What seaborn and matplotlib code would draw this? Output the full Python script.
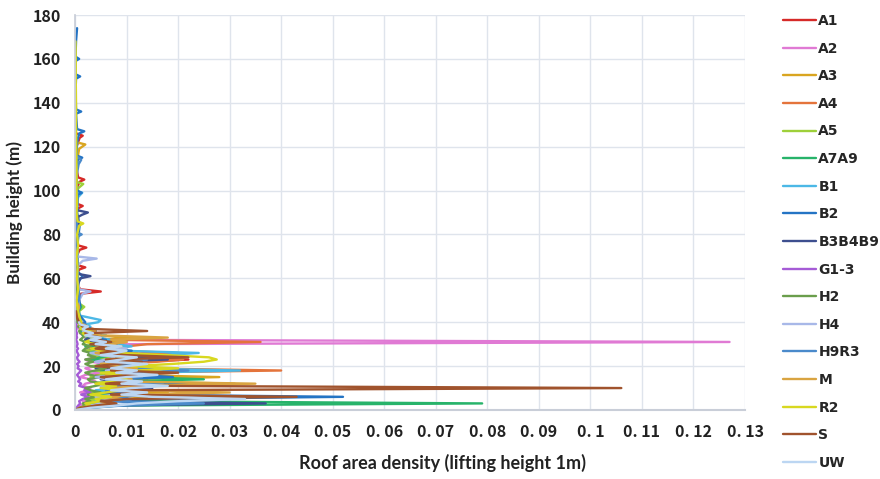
import matplotlib
matplotlib.use("Agg")
import matplotlib.pyplot as plt
import pandas as pd
import seaborn as sns

# Roof area density profiles per zone (values in 10^-3), lifting height 1 m.
# *_low: heights 0..40 m; *_up_h / *_up_v: sparse points above 40 m.
heights_low = list(range(0, 41))

a1_low = [0, 1, 3, 5, 2, 6, 9, 4, 7, 12, 6, 10, 5, 8, 14, 7, 4, 9, 6, 11, 5,
          8, 13, 22, 9, 5, 7, 4, 6, 3, 5, 8, 4, 2, 3, 1.5, 2.5, 1, 1.8, 0.8, 1.2]
a1_up_h = [41, 44, 47, 50, 53, 54, 55, 58, 62, 64, 65, 66, 70, 73, 74, 75, 80,
           85, 90, 92, 93, 94, 98, 102, 104, 105, 106, 110, 115, 120, 124, 125, 126]
a1_up_v = [0.5, 0.7, 0.4, 0.5, 1.2, 5.0, 1.0, 0.3, 0.4, 0.8, 2.0, 0.5, 0.3, 0.9,
           2.2, 0.6, 0.4, 0.2, 0.3, 0.7, 1.5, 0.4, 0.2, 0.5, 0.9, 1.8, 0.6, 0.3,
           0.2, 0.3, 0.9, 1.5, 0.3]

a2_low = [0, 0.5, 1, 2, 1.5, 3, 2, 4, 1, 2.5, 3, 1.5, 2, 4, 3, 1, 2, 5, 3, 2, 4,
          6, 3, 2, 5, 3, 7, 4, 2, 3, 9, 127, 4, 2, 1.5, 1, 2, 0.8, 0.5, 1, 0.6]
a2_up_h = [42, 45]
a2_up_v = [0.4, 0.2]

a3_low = [0, 2, 4, 8, 6, 10, 14, 9, 18, 11, 7, 15, 31, 12, 9, 28, 10, 6, 13, 8,
          5, 11, 7, 4, 9, 6, 12, 5, 8, 4, 6, 10, 5, 12, 3, 4, 2, 3, 1.5, 2, 1]
a3_up_h = [43, 48, 52, 57, 63, 70, 78, 85, 92, 100, 108, 115, 119, 121, 122]
a3_up_v = [0.6, 0.9, 0.4, 0.7, 0.3, 0.5, 0.3, 0.6, 0.2, 0.4, 0.3, 0.5, 0.8, 2.0, 0.3]

a4_low = [0, 1, 2, 4, 3, 7, 5, 9, 6, 11, 8, 5, 12, 7, 10, 6, 14, 9, 40, 12, 7,
          9, 16, 21, 11, 6, 20, 8, 5, 10, 14, 36, 7, 4, 6, 3, 2, 3.5, 1.5, 2, 1]
a4_up_h = [44, 50, 56, 60]
a4_up_v = [0.5, 0.8, 0.3, 0.2]

a5_low = [0, 1, 2, 3, 5, 2, 6, 4, 3, 7, 5, 9, 4, 6, 8, 3, 5, 7, 4, 6, 3, 9, 5,
          4, 7, 3, 5, 2, 4, 6, 3, 5, 2, 4, 1.5, 3, 2, 1, 1.5, 0.8, 1.2]
a5_up_h = [45, 47, 49, 55, 60, 68, 75, 82, 90, 97, 101, 103, 104]
a5_up_v = [0.8, 1.8, 0.5, 0.4, 0.6, 0.3, 0.5, 0.3, 0.4, 0.3, 0.6, 1.6, 0.2]

a7a9_low = [0, 3, 8, 79, 12, 6, 9, 5, 7, 11, 6, 9, 14, 8, 25, 12, 7, 10, 5, 8,
            4, 6, 9, 3, 5, 7, 3, 4, 6, 2, 4, 3, 2, 3, 1.5, 2, 1, 1.5, 0.8, 1, 0.5]
a7a9_up_h = [44, 47, 50]
a7a9_up_v = [0.4, 1.2, 0.2]

b1_low = [0, 1, 3, 6, 4, 8, 5, 10, 6, 4, 9, 7, 5, 11, 8, 6, 9, 13, 32, 10, 7,
          12, 8, 14, 10, 17, 24, 9, 6, 11, 8, 5, 7, 4, 6, 3, 4, 2.5, 3, 2, 4.5]
b1_up_h = [41, 42, 43, 46, 50, 55, 62, 70, 78, 85, 92, 97, 99, 100]
b1_up_v = [5.0, 3.0, 1.0, 0.6, 0.4, 0.7, 0.3, 0.5, 0.3, 0.4, 0.3, 0.6, 1.4, 0.2]

b2_low = [0, 2, 5, 18, 8, 12, 52, 10, 7, 13, 9, 15, 22, 11, 8, 19, 12, 9, 14,
          7, 10, 6, 12, 8, 16, 9, 6, 11, 7, 5, 8, 4, 6, 3, 5, 2, 4, 3, 2, 1.5, 2]
b2_up_h = [44, 48, 55, 59, 61, 63, 70, 78, 84, 90, 98, 99, 100, 108, 114, 115,
           116, 122, 126, 127, 128, 135, 136, 137, 145, 151, 152, 153, 159, 160,
           161, 168, 174]
b2_up_v = [0.6, 1.0, 0.4, 0.8, 1.5, 0.5, 0.3, 0.6, 0.9, 0.4, 0.5, 1.3, 0.4, 0.3,
           0.5, 1.4, 0.3, 0.4, 0.8, 1.8, 0.4, 0.2, 1.2, 0.2, 0.1, 0.2, 1.0, 0.1,
           0.1, 0.8, 0.1, 0.2, 0.4]

b3b4b9_low = [0, 2, 6, 37, 9, 5, 8, 12, 6, 9, 15, 7, 11, 8, 5, 10, 6, 13, 8, 4,
              7, 10, 5, 18, 8, 6, 4, 7, 3, 5, 8, 4, 2, 3, 5, 2, 1.5, 3, 1, 2, 1]
b3b4b9_up_h = [45, 50, 56, 60, 61, 62, 68, 75, 82, 88, 89, 90, 91, 92]
b3b4b9_up_v = [0.5, 0.8, 0.4, 1.0, 3.0, 0.6, 0.4, 0.3, 0.5, 0.6, 1.4, 2.5, 0.5, 0.2]

g13_low = [0, 0.3, 0.6, 1, 0.8, 1.5, 2.5, 1.2, 3, 1.8, 2.2, 0.8, 1.2, 0.6, 1,
           0.7, 0.4, 0.8, 1.2, 0.5, 0.7, 0.4, 0.9, 0.5, 0.4, 0.7, 0.5, 0.3, 0.6,
           0.3, 0.5, 0.4, 0.2, 0.4, 0.3, 0.4, 0.2, 0.3, 0.2, 0.3, 0.1]
g13_up_h = []
g13_up_v = []

h2_low = [0, 1, 2, 1.5, 3, 2, 4, 2.5, 5, 3, 2, 4, 6, 3, 2.5, 5, 3, 2, 4, 6, 3,
          2, 3.5, 2, 4, 2.5, 3, 1.5, 2, 3, 1.5, 2, 1, 1.5, 2, 1, 0.8, 1.2, 0.6,
          0.9, 0.5]
h2_up_h = [44, 48, 53, 57, 60]
h2_up_v = [0.4, 0.7, 0.3, 0.5, 0.2]

h4_low = [0, 1.5, 3, 5, 9, 6, 4, 8, 12, 6, 9, 5, 7, 10, 6, 4, 8, 11, 6, 9, 5,
          7, 4, 6, 9, 5, 3, 7, 10, 6, 4, 5, 3, 4, 2, 3, 1.5, 2.5, 1, 1.5, 0.8]
h4_up_h = [45, 50, 53, 54, 55, 60, 66, 68, 69, 70]
h4_up_v = [0.5, 0.8, 1.5, 3.0, 0.8, 0.4, 0.6, 1.5, 4.2, 0.2]

h9r3_low = [0, 3, 9, 25, 7, 11, 8, 14, 10, 6, 12, 8, 17, 9, 6, 13, 10, 15, 22,
            9, 12, 7, 10, 14, 8, 12, 6, 9, 5, 7, 4, 6, 3, 5, 2.5, 4, 2, 3, 1.5,
            2, 1]
h9r3_up_h = [43, 47, 52, 58, 65, 72, 79, 80, 81, 88, 95, 102, 108, 112, 114, 116]
h9r3_up_v = [0.7, 0.5, 0.9, 0.4, 0.6, 0.3, 0.5, 1.3, 0.4, 0.3, 0.5, 0.3, 0.4,
             0.7, 1.2, 0.2]

m_low = [0, 2, 4, 7, 5, 9, 6, 12, 30, 10, 7, 13, 35, 9, 11, 8, 6, 10, 7, 12, 8,
         5, 9, 6, 11, 7, 4, 8, 5, 9, 6, 10, 7, 18, 5, 3, 4, 2, 2.5, 1.5, 1]
m_up_h = [44, 47, 50]
m_up_v = [0.5, 0.8, 0.2]

r2_low = [0, 1, 3, 2, 5, 4, 7, 3, 6, 9, 5, 8, 4, 7, 10, 6, 9, 5, 12, 20, 11,
          19, 25, 27.5, 26, 18, 8, 5, 3, 6, 4, 2, 3, 5, 2, 1.5, 3, 1, 1.5, 0.8,
          1.2]
r2_up_h = [43, 46, 50, 55, 60, 65, 70, 75, 80, 84, 85, 86, 90, 95, 100, 110,
           120, 130, 140, 150, 160, 168]
r2_up_v = [0.8, 0.5, 0.3, 0.6, 0.4, 0.5, 0.3, 0.6, 0.4, 0.8, 1.6, 0.5, 0.3, 0.4,
           0.3, 0.3, 0.25, 0.2, 0.2, 0.15, 0.15, 0.1]

s_low = [0, 1, 4, 8, 5, 10, 43, 7, 12, 9, 106, 14, 6, 10, 8, 5, 11, 20, 7, 9,
         4, 8, 13, 6, 22, 10, 5, 8, 4, 6, 3, 7, 4, 5, 3, 2, 14, 2, 1.5, 1, 0.8]
s_up_h = [42, 45]
s_up_v = [0.4, 0.2]

uw_low = [0, 3, 8, 12, 20, 33, 15, 9, 14, 7, 11, 18, 9, 13, 6, 10, 16, 8, 12, 7,
          10, 14, 6, 9, 12, 5, 8, 10, 6, 9, 4, 6, 3, 5, 2, 3.5, 2, 1.5, 2.5, 1,
          0.8]
uw_up_h = []
uw_up_v = []

zones = ["A1", "A2", "A3", "A4", "A5", "A7A9", "B1", "B2", "B3B4B9", "G1-3",
         "H2", "H4", "H9R3", "M", "R2", "S", "UW"]
zone_colors = ["#d62a28", "#e07ad4", "#d9a520", "#e4743c", "#9ed03a", "#27b36a",
               "#4cb8e6", "#2474c4", "#3d4f8f", "#a55bd6", "#6a9e4c", "#a8b8e8",
               "#4a8acb", "#d9a441", "#d8d820", "#a0532d", "#bcd6f2"]

profiles = [
    (a1_low, a1_up_h, a1_up_v), (a2_low, a2_up_h, a2_up_v),
    (a3_low, a3_up_h, a3_up_v), (a4_low, a4_up_h, a4_up_v),
    (a5_low, a5_up_h, a5_up_v), (a7a9_low, a7a9_up_h, a7a9_up_v),
    (b1_low, b1_up_h, b1_up_v), (b2_low, b2_up_h, b2_up_v),
    (b3b4b9_low, b3b4b9_up_h, b3b4b9_up_v), (g13_low, g13_up_h, g13_up_v),
    (h2_low, h2_up_h, h2_up_v), (h4_low, h4_up_h, h4_up_v),
    (h9r3_low, h9r3_up_h, h9r3_up_v), (m_low, m_up_h, m_up_v),
    (r2_low, r2_up_h, r2_up_v), (s_low, s_up_h, s_up_v),
    (uw_low, uw_up_h, uw_up_v),
]

rows = []
for zone, (low, up_h, up_v) in zip(zones, profiles):
    hs = heights_low[:len(low)] + up_h
    vs = low + up_v
    for h, v in zip(hs, vs):
        rows.append((zone, v / 1000.0, h))
df = pd.DataFrame(rows, columns=["zone", "density", "height"])

sns.set_theme(style="white")
plt.rcParams["font.family"] = ["Noto Sans CJK SC", "DejaVu Sans"]

W, H = 880, 479
fig = plt.figure(figsize=(W / 100, H / 100), dpi=100)
ax = fig.add_axes([75 / W, 1 - 410 / H, 670 / W, 395 / H])

sns.lineplot(data=df, x="density", y="height", hue="zone", hue_order=zones,
             palette=dict(zip(zones, zone_colors)), estimator=None, sort=False,
             linewidth=1.7, ax=ax)

ax.set_xlim(0, 0.13)
ax.set_ylim(0, 180)
xt = [i / 100 for i in range(14)]
ax.set_xticks(xt)
ax.set_xticklabels(["0"] + [f"{v:.2f}".rstrip("0").replace(".", ". ")
                            for v in xt[1:]])
ax.set_yticks(range(0, 181, 20))
ax.tick_params(axis="both", length=0, labelsize=11.5, colors="#222222", pad=10)
for lab in ax.get_xticklabels() + ax.get_yticklabels():
    lab.set_fontweight("bold")
ax.grid(True, color="#dfe4ec", linewidth=1.0)
for side in ("top", "right"):
    ax.spines[side].set_visible(False)
ax.spines["left"].set_color("#c9ced8")
ax.spines["bottom"].set_color("#c9ced8")
ax.spines["bottom"].set_linewidth(1.5)

ax.set_xlabel("Roof area density (lifting height 1m)", fontsize=13,
              fontweight="bold", family=["Lato", "DejaVu Sans"], color="#222222")
ax.xaxis.set_label_coords(0.548, -0.112)
ax.set_ylabel("Building height (m)", fontsize=12.3, fontweight="bold",
              family=["Lato", "DejaVu Sans"], color="#222222", labelpad=7)

handles, labels = ax.get_legend_handles_labels()
ax.legend(handles, labels, loc="upper left", bbox_to_anchor=(783 / W, 1 - 14 / H),
          bbox_transform=fig.transFigure, frameon=False, borderpad=0,
          borderaxespad=0, handlelength=2.4, handletextpad=0.15,
          labelspacing=0.98,
          prop={"family": ["DejaVu Sans"], "weight": "bold", "size": 10})

fig.savefig("out.png", dpi=100)
